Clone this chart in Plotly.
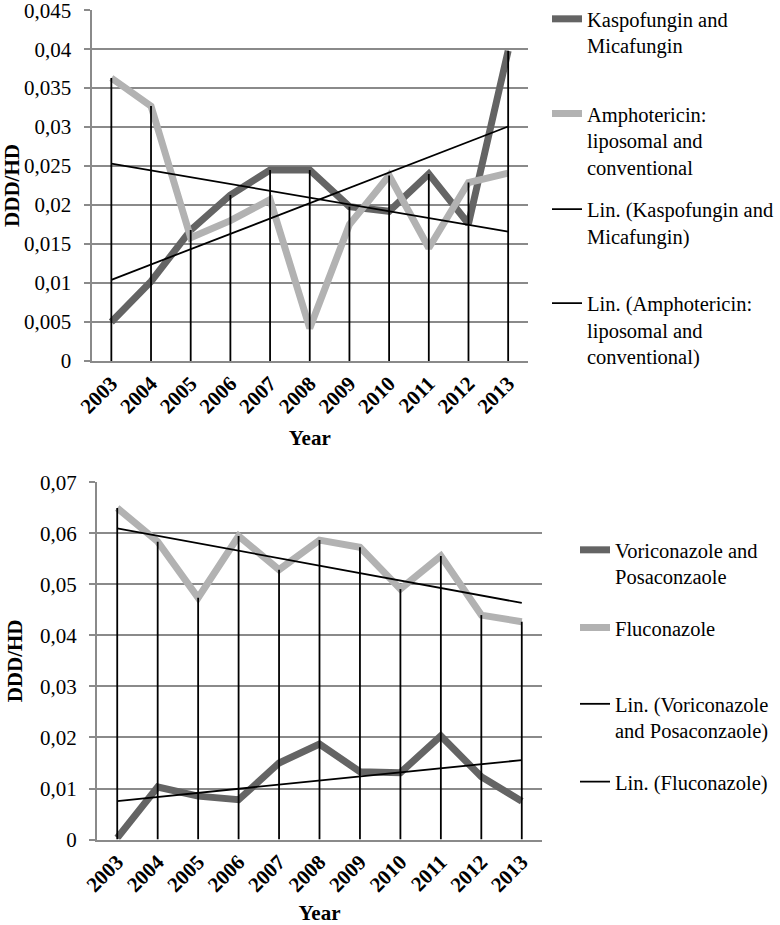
import numpy as np
import plotly.graph_objects as go

# ---------------- data ----------------
years = ['2003', '2004', '2005', '2006', '2007', '2008', '2009', '2010', '2011', '2012', '2013']

kaspofungin = [0.0050, 0.0102, 0.0168, 0.0213, 0.0245, 0.0245, 0.0198, 0.0192, 0.0240, 0.0176, 0.0398]
amphotericin = [0.0363, 0.0327, 0.0158, 0.0180, 0.0207, 0.0042, 0.0175, 0.0238, 0.0145, 0.0229, 0.0241]

voriconazole = [0.0003, 0.0103, 0.0085, 0.0078, 0.0150, 0.0187, 0.0133, 0.0131, 0.0203, 0.0123, 0.0075]
fluconazole = [0.0650, 0.0584, 0.0474, 0.0595, 0.0529, 0.0587, 0.0573, 0.0491, 0.0556, 0.0440, 0.0427]

top_names = ['Kaspofungin and<br>Micafungin',
             'Amphotericin:<br>liposomal and<br>conventional',
             'Lin. (Kaspofungin and<br>Micafungin)',
             'Lin. (Amphotericin:<br>liposomal and<br>conventional)']
bot_names = ['Voriconazole and<br>Posaconzaole',
             'Fluconazole',
             'Lin. (Voriconazole<br>and Posaconzaole)',
             'Lin. (Fluconazole)']

y_title = 'DDD/HD'
x_title = 'Year'

# ---------------- style ----------------
FONT = '"Liberation Serif", "Times New Roman", "DejaVu Serif", serif'
DARK = '#646464'
LIGHT = '#b2b2b2'
GRID = '#8a8a8a'
W, H = 780, 925


def px_x(p):
    return p / W


def px_y(p):
    return 1 - p / H


def trend(vals):
    idx = np.arange(len(vals))
    coef = np.polyfit(idx, vals, 1)
    return list(np.polyval(coef, idx))


def drop_lines(a, b):
    xs, ys = [], []
    for c, va, vb in zip(years, a, b):
        xs += [c, c, None]
        ys += [0, max(va, vb), None]
    return xs, ys


fig = go.Figure()


def add_chart(xa, ya, s1, s2, names, legs):
    fig.add_trace(go.Scatter(x=years, y=s1, mode='lines', name=names[0],
                             line=dict(color=DARK, width=7), xaxis=xa, yaxis=ya,
                             legend=legs[0]))
    fig.add_trace(go.Scatter(x=years, y=s2, mode='lines', name=names[1],
                             line=dict(color=LIGHT, width=7), xaxis=xa, yaxis=ya,
                             legend=legs[1]))
    dx, dy = drop_lines(s1, s2)
    fig.add_trace(go.Scatter(x=dx, y=dy, mode='lines', showlegend=False,
                             line=dict(color='black', width=1.8), xaxis=xa, yaxis=ya,
                             hoverinfo='skip'))
    fig.add_trace(go.Scatter(x=years, y=trend(s1), mode='lines', name=names[2],
                             line=dict(color='black', width=1.8), xaxis=xa, yaxis=ya,
                             legend=legs[2]))
    fig.add_trace(go.Scatter(x=years, y=trend(s2), mode='lines', name=names[3],
                             line=dict(color='black', width=1.8), xaxis=xa, yaxis=ya,
                             legend=legs[3]))


add_chart('x', 'y', kaspofungin, amphotericin, top_names,
          ['legend', 'legend2', 'legend3', 'legend4'])
add_chart('x2', 'y2', voriconazole, fluconazole, bot_names,
          ['legend5', 'legend6', 'legend7', 'legend8'])

tickfont = dict(family=FONT, size=21, color='black')
xtickfont = dict(family=FONT, size=21, color='black', weight='bold')
titlefont = dict(family=FONT, size=21, color='black', weight='bold')


def xaxis_cfg(domain, anchor, standoff):
    return dict(domain=domain, anchor=anchor, type='category',
                range=[-0.5, len(years) - 0.5], showgrid=False,
                showline=True, linecolor=GRID, linewidth=2,
                ticks='', tickangle=-45, tickfont=xtickfont,
                title=dict(text='<b>' + x_title + '</b>', font=titlefont, standoff=standoff),
                automargin=False, zeroline=False)


def yaxis_cfg(domain, anchor, top, dtick, standoff):
    return dict(domain=domain, anchor=anchor, range=[0, top * 1.0005], dtick=dtick,
                tick0=0,
                showgrid=True, gridcolor=GRID, gridwidth=2,
                showline=True, linecolor=GRID, linewidth=2,
                ticks='outside', ticklen=6, tickcolor=GRID, tickwidth=2,
                ticklabelstandoff=8, ticklabeloverflow='allow',
                tickfont=tickfont, zeroline=False,
                title=dict(text='<b>' + y_title + '</b>', font=titlefont, standoff=standoff),
                automargin=False)


def legend_cfg(xp, yp):
    return dict(x=px_x(xp), y=px_y(yp), xanchor='left', yanchor='top',
                font=dict(family=FONT, size=20.5, color='black'),
                bgcolor='rgba(0,0,0,0)', valign='top', itemwidth=30,
                traceorder='normal')


layout = dict(
    width=W, height=H,
    margin=dict(l=0, r=0, t=0, b=0, autoexpand=False),
    paper_bgcolor='white', plot_bgcolor='white',
    separators=', ',
    font=dict(family=FONT, color='black'),
    xaxis=xaxis_cfg([px_x(91.5), px_x(528)], 'y', 13),
    yaxis=yaxis_cfg([px_y(361), px_y(10)], 'x', 0.045, 0.005, 6),
    xaxis2=xaxis_cfg([px_x(97), px_x(542)], 'y2', 21),
    yaxis2=yaxis_cfg([px_y(839.5), px_y(482.3)], 'x2', 0.07, 0.01, 12),
)

top_leg_y = [-1, 93.7, 189.3, 283.3]
bot_leg_y = [530, 607.7, 684, 761.7]
for i, yy in enumerate(top_leg_y):
    key = 'legend' if i == 0 else 'legend%d' % (i + 1)
    layout[key] = legend_cfg(547, yy)
for i, yy in enumerate(bot_leg_y):
    layout['legend%d' % (i + 5)] = legend_cfg(575, yy)

fig.update_layout(**layout)
fig.write_html('out.html', config={'displayModeBar': False},
               post_script="document.body.style.margin='0';document.body.style.overflow='hidden';")
